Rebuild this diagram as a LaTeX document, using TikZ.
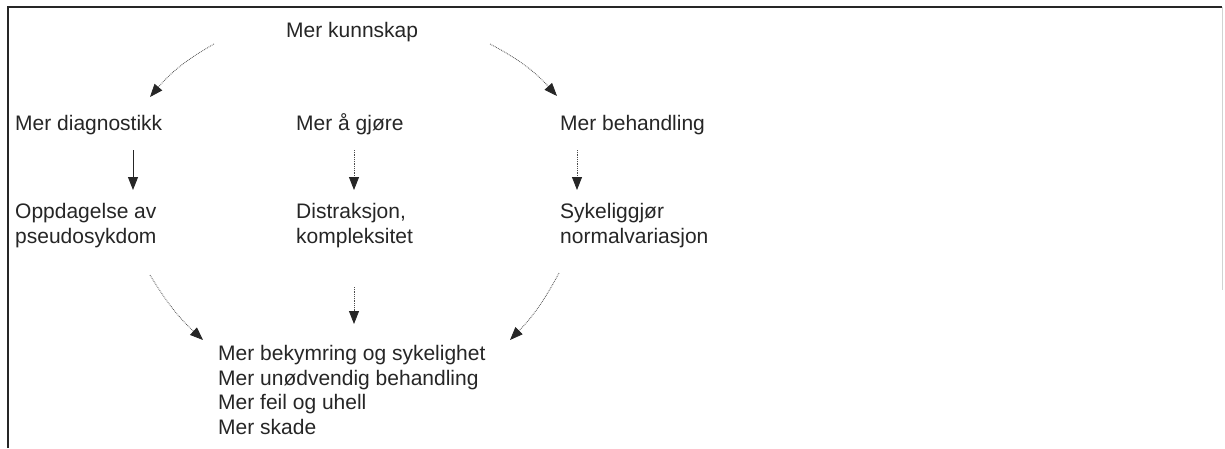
\documentclass[tikz,border=0pt]{standalone}
\usepackage{fontspec}
\setmainfont{Liberation Sans}
\usetikzlibrary{arrows.meta}
\definecolor{ink}{gray}{0.15}
\tikzset{
  lbl/.style={inner sep=0pt, anchor=base west, font=\fontsize{21}{24.5}\selectfont, text=ink},
  tip/.style={-{Triangle[length=13pt,width=10pt,color=ink]}},
  flow/.style={tip, densely dotted, line width=0.8pt, draw=gray!60!black},
  solidflow/.style={tip, line width=1pt, draw=ink},
  frame/.style={line width=1.3pt, draw=ink},
}
\begin{document}
\begin{tikzpicture}[x=1pt,y=-1pt]
\useasboundingbox (0,0) rectangle (1225,448);
\fill[white] (0,0) rectangle (1225,448);
\draw[frame] (8,448) -- (8,7) -- (1222,7);
\draw[line width=0.6pt, gray!35] (1222,7) -- (1222,290);

\node[lbl] (kunn) at (286,37) {Mer kunnskap};
\node[lbl] (diag) at (15,130) {Mer diagnostikk};
\node[lbl] (gjore) at (296,130) {Mer å gjøre};
\node[lbl] (beh) at (560,130) {Mer behandling};
\node[lbl] (opp1) at (15,218) {Oppdagelse av};
\node[lbl] (opp2) at (15,243) {pseudosykdom};
\node[lbl] (dis1) at (296,218) {Distraksjon,};
\node[lbl] (dis2) at (296,243) {kompleksitet};
\node[lbl] (syk1) at (560,218) {Sykeliggjør};
\node[lbl] (syk2) at (560,243) {normalvariasjon};
\node[lbl] (res1) at (218,360.5) {Mer bekymring og sykelighet};
\node[lbl] (res2) at (218,385) {Mer unødvendig behandling};
\node[lbl] (res3) at (218,409.5) {Mer feil og uhell};
\node[lbl] (res4) at (218,434) {Mer skade};

\coordinate (tl1) at (214,44);  \coordinate (tl2) at (150,97);
\coordinate (tr1) at (490,44);  \coordinate (tr2) at (557,96);
\coordinate (v1a) at (133,150); \coordinate (v1b) at (133,190);
\coordinate (v2a) at (354,150); \coordinate (v2b) at (354,190);
\coordinate (v3a) at (577,150); \coordinate (v3b) at (577,190);
\coordinate (bl1) at (150,275); \coordinate (bl2) at (203,340);
\coordinate (bm1) at (354,287); \coordinate (bm2) at (354,324);
\coordinate (br1) at (559,273); \coordinate (br2) at (510,340);

\draw[flow] (tl1) to[bend right=10] (tl2);
\draw[flow] (tr1) to[bend left=10] (tr2);
\draw[solidflow] (v1a) -- (v1b);
\draw[flow] (v2a) -- (v2b);
\draw[flow] (v3a) -- (v3b);
\draw[flow] (bl1) to[bend right=8] (bl2);
\draw[flow] (bm1) -- (bm2);
\draw[flow] (br1) to[bend left=8] (br2);
\end{tikzpicture}
\end{document}
